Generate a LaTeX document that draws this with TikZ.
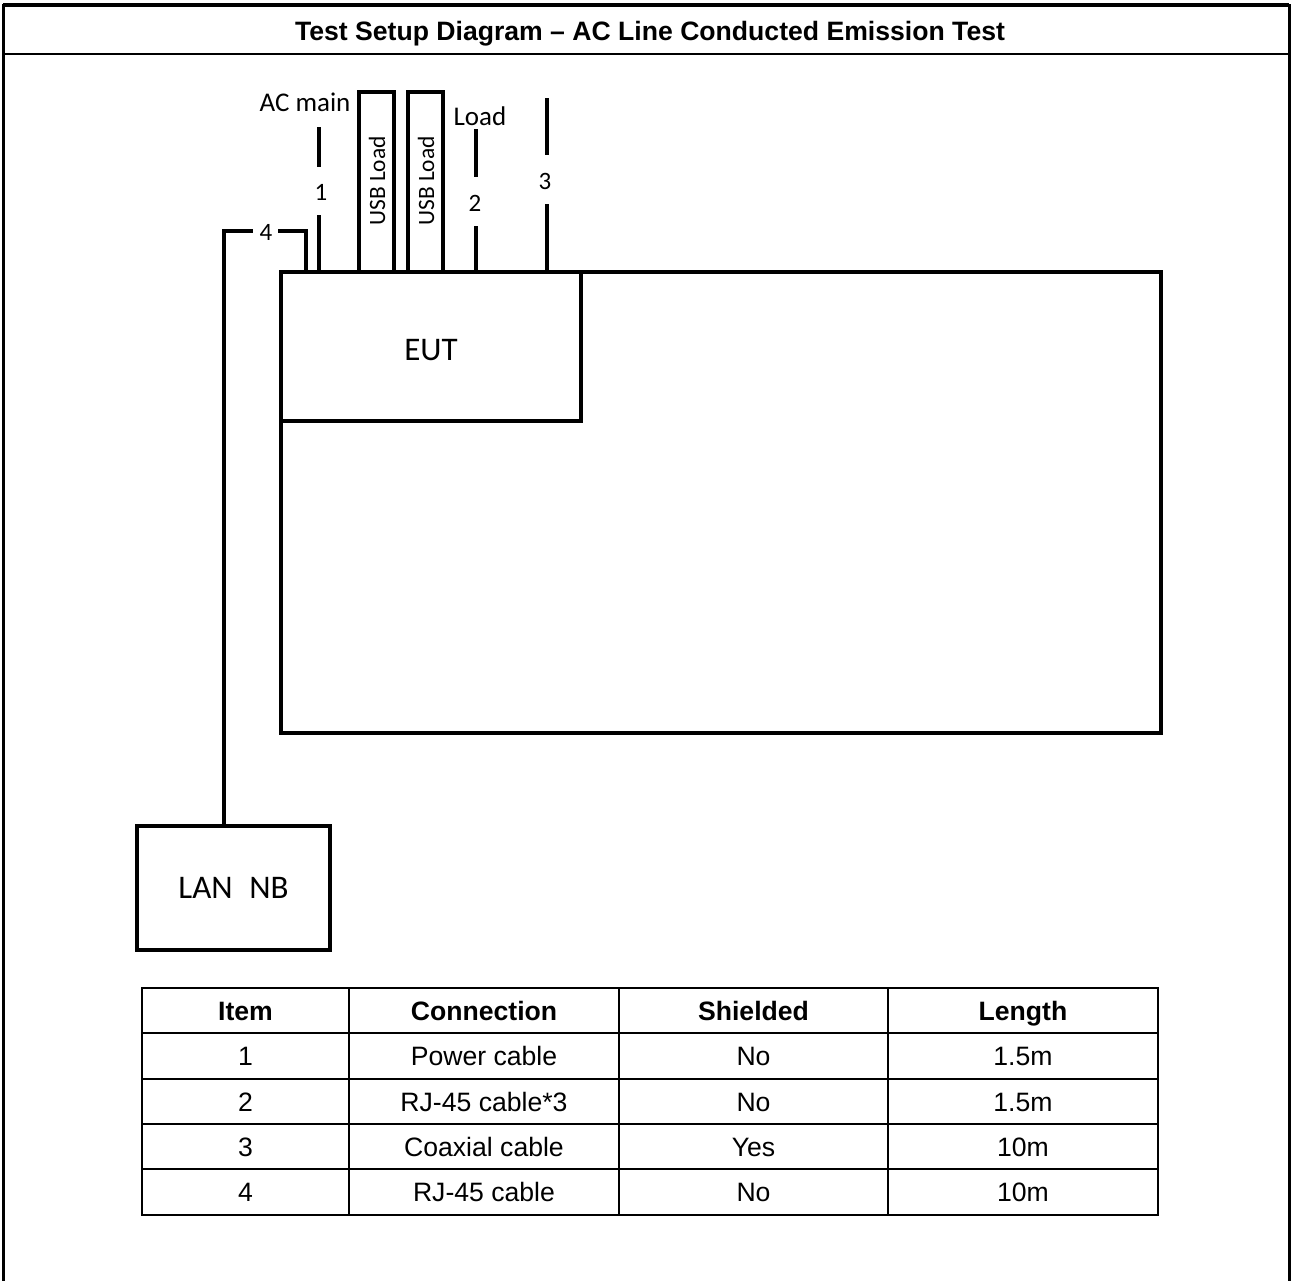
\documentclass[tikz,border=0pt]{standalone}
\usepackage{fontspec}
\setmainfont{Liberation Sans}
\newfontfamily\calfont{Carlito}
\begin{document}
\begin{tikzpicture}[x=0.5pt,y=-0.5pt,
  cable/.style={line width=2pt, line join=miter},
  boxn/.style={draw, line width=2pt, inner sep=0pt, font=\calfont\fontsize{16.5}{18}\selectfont},
  lbl/.style={inner sep=0pt, font=\calfont\fontsize{13.5}{15}\selectfont},
  num/.style={inner sep=0pt, font=\calfont\fontsize{12.5}{13}\selectfont},
  usb/.style={inner sep=0pt, rotate=90, font=\calfont\fontsize{11.7}{13}\selectfont},
  grid/.style={line width=1pt},
  th/.style={inner sep=0pt, text height=9.5pt, text depth=0pt, font=\bfseries\fontsize{13.3}{15}\selectfont},
  td/.style={inner sep=0pt, text height=9.5pt, text depth=0pt, font=\fontsize{13.3}{15}\selectfont}]
\useasboundingbox (0,0) rectangle (1292,1281);
% outer frame
\draw[line width=1.5pt] (3,1281) -- (3,5) -- (1289,5) -- (1289,1281);
\draw[line width=2pt] (3,5) -- (1289,5);
\draw[line width=1pt] (3,54) -- (1289,54);
\node[th] (title) at (650,31) {Test Setup Diagram – AC Line Conducted Emission Test};
% table (ground plane)
\node[draw, line width=2pt, minimum width=440pt, minimum height=230.5pt, inner sep=0pt] (plane) at (721,502.5) {};
\node[boxn, minimum width=150pt, minimum height=74.5pt, anchor=north west, text height=14.1pt, text depth=0pt] (eut) at (plane.north west) {EUT};
\node[boxn, minimum width=96.5pt, minimum height=62pt] (lan) at (233.5,888) {LAN\hspace{0.5em}NB};
% cable 4
\coordinate (c4a) at (253,231);
\coordinate (c4b) at (278,231);
\coordinate (c4e) at (306,273);
\draw[cable] (lan.north -| 224,0) |- (c4a);
\draw[cable] (c4b) -| (c4e);
\node[num] (n4) at (266,232) {4};
% cable 1
\coordinate (c1t) at (319,127);
\coordinate (c1m) at (319,167);
\coordinate (c1l) at (319,215);
\coordinate (c1e) at (319,273);
\draw[cable] (c1t) -- (c1m);
\draw[cable] (c1l) -- (c1e);
\node[num] (n1) at (321,192) {1};
\node[lbl] (acmain) at (305,102) {AC main};
% USB loads
\coordinate (u1a) at (359,273);
\coordinate (u1b) at (394,273);
\draw[cable] (u1a) -- (359,92) -- (394,92) -- (u1b);
\node[usb] (usb1) at (377,181) {USB Load};
\coordinate (u2a) at (408,273);
\coordinate (u2b) at (443,273);
\draw[cable] (u2a) -- (408,92) -- (443,92) -- (u2b);
\node[usb] (usb2) at (426,181) {USB Load};
% cable 2
\coordinate (c2t) at (476,129);
\coordinate (c2m) at (476,177);
\coordinate (c2l) at (476,226);
\coordinate (c2e) at (476,273);
\draw[cable] (c2t) -- (c2m);
\draw[cable] (c2l) -- (c2e);
\node[num] (n2) at (475,203) {2};
\node[lbl] (load) at (480,116) {Load};
% cable 3
\coordinate (c3t) at (547,98);
\coordinate (c3m) at (547,155);
\coordinate (c3l) at (547,204);
\coordinate (c3e) at (547,273);
\draw[cable] (c3t) -- (c3m);
\draw[cable] (c3l) -- (c3e);
\node[num] (n3) at (545,181) {3};
% table
\draw[grid] (142,988) rectangle (1158,1215);
\foreach \yy in {1033,1079,1124,1169} \draw[grid] (142,\yy) -- (1158,\yy);
\foreach \xx in {349,619,888} \draw[grid] (\xx,988) -- (\xx,1215);
\node[th] (h1) at (245.5,1011) {Item};
\node[th] (h2) at (484,1011) {Connection};
\node[th] (h3) at (753.5,1011) {Shielded};
\node[th] (h4) at (1023,1011) {Length};
\node[td] (r1a) at (245.5,1056) {1};
\node[td] (r1b) at (484,1056) {Power cable};
\node[td] (r1c) at (753.5,1056) {No};
\node[td] (r1d) at (1023,1056) {1.5m};
\node[td] (r2a) at (245.5,1102) {2};
\node[td] (r2b) at (484,1102) {RJ-45 cable*3};
\node[td] (r2c) at (753.5,1102) {No};
\node[td] (r2d) at (1023,1102) {1.5m};
\node[td] (r3a) at (245.5,1147) {3};
\node[td] (r3b) at (484,1147) {Coaxial cable};
\node[td] (r3c) at (753.5,1147) {Yes};
\node[td] (r3d) at (1023,1147) {10m};
\node[td] (r4a) at (245.5,1192) {4};
\node[td] (r4b) at (484,1192) {RJ-45 cable};
\node[td] (r4c) at (753.5,1192) {No};
\node[td] (r4d) at (1023,1192) {10m};
\end{tikzpicture}
\end{document}
